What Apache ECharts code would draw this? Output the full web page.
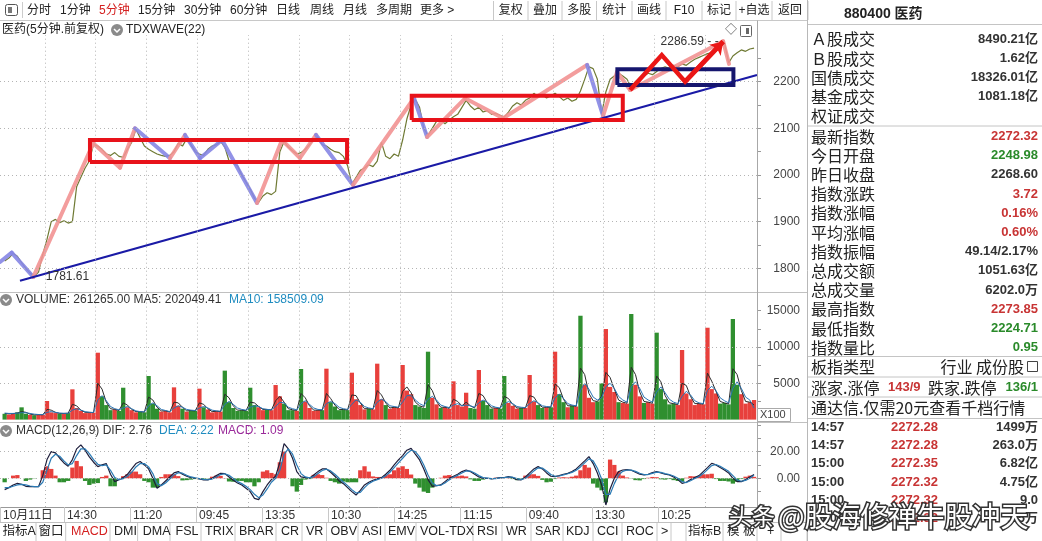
<!DOCTYPE html>
<html><head><meta charset="utf-8">
<script src="https://cdn.jsdelivr.net/npm/echarts@6/dist/echarts.min.js"></script>
<style>html,body{margin:0;padding:0;background:#fff}#c{width:1042px;height:541px}</style>
</head><body><div id="c"></div>
<script>
// ---------- data (coarse: 6 bars per trading day) ----------
const price = [
1816,1822,1832,1826,1812,1800,1790,1783,1792,1830,
1862,1900,1905,1898,1902,1897,1900,1975,1995,2015,
2030,2066,2062,2055,2045,2042,2048,2040,2038,2055,
2070,2098,2080,2062,2055,2050,2045,2042,2040,2042,
2050,2068,2062,2078,2065,2050,2045,2042,2055,2062,
2065,2072,2060,2030,2025,2020,2000,1985,1970,1950,
1942,1955,1962,1958,1965,2050,2072,2060,2052,2045,
2048,2055,2065,2075,2082,2065,2062,2055,2050,2048,
2040,2020,1980,1995,2010,2015,2022,2018,2030,2070,
2040,2035,2045,2040,2075,2120,2150,2162,2145,2100,
2085,2100,2115,2118,2110,2118,2125,2130,2145,2160,
2148,2140,2145,2135,2138,2130,2132,2128,2124,2135,
2148,2155,2150,2160,2165,2175,2168,2172,2165,2170,
2175,2168,2160,2165,2158,2162,2180,2205,2232,2228,
2205,2130,2178,2205,2212,2218,2212,2205,2188,2200,
2208,2212,2218,2215,2222,2228,2232,2228,2235,2232,
2238,2235,2242,2248,2252,2256,2260,2262,2268,2275,
2284,2240,2255,2262,2268,2265,2270,2272];

const vol = [
800,700,900,1000,
1690,800,650,600,700,650,
2560,1000,900,800,850,900,
4170,1600,1200,900,1000,950,
9210,3200,2000,1300,1400,1200,
4390,1700,1300,1000,1100,1000,
6000,2200,1500,1100,1200,1000,
4440,1900,1500,1100,1300,1200,
4260,1700,1400,1000,1200,1100,
6740,2400,1600,1200,1300,1200,
4390,2000,1700,1300,1400,1300,
4760,3200,2200,1300,1300,1200,
6970,2500,1600,1200,1300,1300,
7010,2400,1800,1300,1400,1300,
6460,2800,2000,1400,1500,1400,
7700,2800,2000,1500,1700,1600,
7520,4000,3500,2000,1800,1600,
9350,3000,2100,1600,1700,1500,
5270,2000,1800,3700,1600,1500,
6830,2600,2000,1500,1600,1500,
6000,2300,1900,1500,1600,1600,
6140,2500,2000,1600,1700,1700,
9350,3500,2400,1700,1900,1800,
14300,4800,3000,2400,2500,5000,
12470,4500,3800,2400,2300,2200,
14540,4800,3200,2300,2400,2200,
11970,4200,2800,2100,2200,2000,
9580,3600,2800,2000,2200,2100,
12650,4200,3600,2200,2300,2100,
13850,4800,3500,2200,2400,2700];

const volUp = [
0,1,1,0,
0,0,1,0,1,1, 1,1,1,0,1,0, 1,1,1,1,1,1, 1,0,0,0,1,0, 0,1,1,1,0,0,
0,0,0,1,1,1, 1,1,0,1,0,0, 1,0,1,1,1,1, 0,0,0,0,0,0, 0,0,1,1,0,1,
1,1,0,0,0,1, 0,1,1,1,1,0, 1,0,0,0,0,0, 1,1,1,1,0,1, 1,1,0,1,1,1,
1,1,1,0,0,0, 0,1,1,0,1,1, 1,1,1,1,0,0, 1,0,0,0,1,0, 0,1,1,1,0,1,
1,1,0,0,1,0, 1,0,0,1,0,1, 0,1,1,1,0,0, 1,1,1,0,1,1, 0,1,1,0,1,1,
0,0,0,0,0,1, 1,1,1,1,1,1, 1,1,1,0,0,0, 0,0,1,1,1,1];

const volMA5 = [
850,800,820,900,
1100,1000,750,650,680,660, 1400,1300,1000,850,850,880, 2100,1900,1300,1000,1000,960,
5000,4200,2400,1500,1400,1250, 2300,2000,1400,1100,1100,1030, 3100,2700,1700,1200,1200,1050,
2400,2300,1700,1200,1250,1200, 2300,2100,1500,1100,1150,1100, 3500,3000,1900,1300,1300,1220,
2400,2300,1800,1400,1400,1320, 2600,3200,2400,1500,1350,1250, 3600,3000,1900,1300,1300,1300,
3600,2900,2000,1400,1400,1320, 3400,3300,2300,1500,1500,1420, 4000,3400,2300,1600,1700,1620,
3900,4500,3700,2400,1900,1700, 4800,4000,2500,1700,1700,1550, 2800,2500,1900,2400,1900,1600,
3600,3300,2300,1600,1600,1520, 3200,2900,2100,1600,1600,1600, 3300,3100,2200,1700,1700,1700,
4900,4400,2800,1900,1900,1820, 7100,6200,3600,2600,2500,3200, 6500,5800,4200,2700,2400,2250,
7200,6200,3800,2500,2400,2250, 6000,5200,3300,2300,2200,2050, 5000,4700,3200,2200,2200,2120,
6400,5300,3900,2500,2300,2150, 7000,6200,4000,2500,2400,2020];

const volMA10 = [
900,850,850,880,
950,950,850,750,700,680, 1000,1100,1000,900,860,870, 1300,1500,1300,1100,1000,980,
2700,3300,2600,1800,1500,1350, 1600,1800,1500,1200,1100,1050, 1900,2300,1900,1400,1250,1100,
1600,1900,1700,1400,1300,1250, 1600,1800,1600,1300,1200,1150, 2100,2500,2100,1600,1400,1300,
1700,1900,1800,1500,1400,1350, 1800,2400,2300,1700,1500,1350, 2200,2600,2100,1600,1400,1350,
2200,2500,2200,1700,1500,1400, 2100,2700,2400,1800,1600,1500, 2400,2800,2500,1900,1800,1700,
2400,3300,3300,2700,2200,1900, 2800,3200,2700,2000,1800,1650, 2000,2200,1900,2000,1900,1700,
2300,2700,2400,1900,1700,1600, 2100,2500,2200,1800,1700,1650, 2200,2600,2300,1900,1800,1750,
3000,3500,2900,2200,2000,1900, 4000,5000,4200,3100,2700,3000, 4500,5000,4300,3200,2700,2400,
4500,5200,4300,3100,2700,2400, 3800,4500,3700,2800,2400,2200, 3200,3900,3400,2600,2300,2200,
4000,4600,4000,3000,2600,2300, 4300,5200,4300,3100,2700,1585];

const dif = [
-8.5,-7,-5,-3.8,-4.5,-6,-6.3,-6.3,-6.3,2,
14,20,19,15,11.5,9,14,22,25,21,
16,12,8.7,10,11,3,-2.5,-1,0.5,3,
7,11,12.5,10,7,0,-7.5,-5,-2,1,
4,5,3,1.5,0.5,0,-0.5,-1.2,-1.2,0,
2,3.7,3.5,1,-1.5,-3.5,-5,-7.5,-10,-15,
-16,-10,-5,-1,1.5,12,26,22,15,5,
1,0.5,0,2.5,5,7,7,4.5,1.5,-2,
-4,-7,-10,-12.5,-9,-5,-3,-1.5,-0.5,0.5,
3,6,10,13.7,17,21,22.4,18,13.7,7,
-1,-6,-5.5,-5,-2.5,0,1.5,3,5,6.2,
5,3,1,0,0,-0.5,0,0.5,0.5,1.2,
0.5,-1,-1.2,1,4,7,8.7,7,4,1.5,
1.2,2,3,3.7,5,7,10,13,16.2,11,
4,-5,-20,-8,0,5,6.2,6.5,6,4.5,
3,2.5,3,4.2,5,4,3,2.5,1,-1,
-3.8,-3,-1,0.5,2,5,8,11.2,10,8,
6.2,4,0,-2.5,-2.5,-1,1,2.76];

const dea = [
-7,-7,-6,-5,-4.5,-5,-5.8,-6.2,-6.3,-3,
6,15,18,16.5,13,10,11,17,22,22,
18.5,14,10.5,9.5,10,6,0.5,-1,-0.3,1.5,
4.5,8.5,11,11,8.5,3.5,-4,-5.5,-3.5,-0.5,
2.5,4.2,3.8,2.2,1,0.3,-0.2,-0.8,-1.1,-0.6,
1,2.8,3.4,2.2,-0.2,-2.5,-4,-6,-8.5,-12,
-14.5,-12.5,-8,-3,0,6,18,22,18,10,
3.5,1,0.3,1.2,3.5,5.8,6.8,5.5,3,0,
-2.8,-5.5,-8.5,-11,-10.5,-7,-4,-2.2,-1,0,
1.8,4.5,8,11.5,15,18.5,21,20,16,10,
2.5,-3.5,-5.5,-5.2,-3.5,-1.2,0.8,2.2,4,5.5,
5.4,4,2,0.5,0.1,-0.3,-0.2,0.3,0.5,0.9,
0.8,-0.3,-1,0,2.5,5.5,7.8,7.6,5.5,2.8,
1.5,1.7,2.6,3.4,4.4,6,8.5,11.5,14.5,13,
7.5,-0.5,-12,-12,-4,2.5,5.2,6.2,6.1,5.2,
3.8,2.8,2.8,3.7,4.6,4.4,3.5,2.8,1.7,0,
-2.5,-3.2,-1.8,-0.2,1.2,3.5,6.5,9.5,10.3,9,
7.2,5.2,2,-1.2,-2.2,-1.6,0,2.22];

const macdBar = [
-3,0,2,2.4,0,-2,-1,-0.2,0,6,
9,7,2,-3,-3,-2,8,13,9,-2,
-5,-4,-3.6,1,2,-6,-6,0,1.6,3,
5,5,3,-2,-3,-7,-7,1,3,3,
3,1.6,-1.6,-1.4,-1,-0.6,-0.6,-0.8,-0.2,1.2,
2,1.8,0.2,-2.4,-2.6,-2,-2,-3,-3,-6,
-3,5,6,4,3,12,20,0,-6,-10,
-5,-1,-0.6,2.6,3,2.4,0.4,-2,-3,-4,
-2.4,-3,-3,-3,6,9,5,1.4,1,1,
2.4,3,6,8,9,7,2.8,-4,-7,-10,
-11,-7,0,0.4,2,2.4,1.4,1.6,2,1.4,
-0.8,-2,-2,-1,-0.2,-0.4,0.4,0.4,0,0.6,
-0.6,-1.4,-0.4,2,3,3,1.8,-1.2,-3,-2.6,
-0.6,0.6,0.8,0.6,1.2,2,6,10,8,-4,
-7,-9,-18,14,10,5,2,0.6,-0.2,-1.4,
-1.6,-0.6,0.4,1,0.8,-0.8,-1,-0.6,-1.4,-2,
-2.6,0.4,1.6,1.4,1.6,3,3,3.4,-0.6,-2,
-2,-2.4,-4,-2.6,-0.6,1.2,2,1.09];

// TDXWAVE(22) zig-zag vertices (bar position, index value) and trend state of each leg
const waveBars = [-0.6,2.16,7.26,21.43,27.74,31.29,39.55,43.1,46.64,51.84,60.11,66.0,70.26,74.04,82.79,97.2,100.27,109.25,118.22,138.07,141.85,145.15,148.23,170.2,171.6];
const waveVals = [1813.7,1833.6,1781.61,2068,2015.7,2100,2035.9,2085.8,2035.9,2075,1940,2075,2036.5,2086,1978.6,2165,2081.5,2164.4,2121.6,2235.8,2126.5,2220.8,2182.2,2286.59,2238];
const waveUp   = [0,0,1,1,1,0,1,0,0,0,1,1,1,0,1,0,1,1,1,0,1,1,1,1];

// hand-drawn annotations, in data space
const trendBars = [4.12,178.2];
const trendVals = [1773.6,2214.4];
const boxBars = [[20.65,81.37],[96.65,146.5],[145.22,172.63]];
const boxVals = [[2027.9,2075],[2117.9,2170],[2192.9,2226.6]];
const arrowBars = [148.23,155.71,161.22,170.2];
const arrowVals = [2182,2257,2200,2285.7];

// axes
const xTickBars = [-0.6,14.5,30.1,45.7,61.3,76.9,92.5,108.1,123.6,139.2,154.8];
const xTickLabels = ['10月11日','14:30','11:20','09:45','13:35','10:30','14:25','11:15','09:40','13:30','10:25'];
const gridDayBars = [10,22,34,46,58,70,82,94,106,118,130,142,154,166];
const mainLabels = [1800,1900,2000,2100,2200];
const mainTicks = [1800,1850,1900,1950,2000,2050,2100,2150,2200,2250];
const volLabels = [5000,10000,15000];
const volTicks = [2500,5000,7500,10000,12500,15000];
const macdLabels = [0,20];
const macdTicks = [-20,-10,0,10,20,30,40];

// side panel texts
const infoLabelsA = ['Ａ股成交','Ｂ股成交','国债成交','基金成交','权证成交'];
const infoValuesA = ['8490.21亿','1.62亿','18326.01亿','1081.18亿',''];
const infoLabelsB = ['最新指数','今日开盘','昨日收盘','指数涨跌','指数涨幅','平均涨幅','指数振幅','总成交额','总成交量','最高指数','最低指数','指数量比'];
const infoValuesB = ['2272.32','2248.98','2268.60','3.72','0.16%','0.60%','49.14/2.17%','1051.63亿','6202.0万','2273.85','2224.71','0.95'];
const infoSignB   = [1,-1,0,1,1,1,0,0,0,1,-1,-1];
const tickTimes = ['14:57','14:57','15:00','15:00','15:00','15:00'];
const tickPrices = ['2272.28','2272.28','2272.35','2272.32','2272.32','2272.32'];
const tickVols = ['1499万','263.0万','6.82亿','4.75亿','9.0','1.5万'];

// ---------- rendering ----------
const FONT = "'Liberation Sans','Noto Sans CJK SC',sans-serif";
const CN = "'Noto Sans CJK SC','Liberation Sans',sans-serif";
const RED = '#e8403c', GREEN = '#2f8f2f';
const TXT_RED = '#c83434', TXT_GREEN = '#2a8a2a';
const XMIN = -0.6, XMAX = 178.2;
const pos = i => i + 0.5;

function gridLines(ys, xs) {
  return {silent:true, symbol:['none','none'], animation:false, label:{show:false},
    emphasis:{disabled:true}, lineStyle:{type:[1,3], color:'#b4b4b4', width:1},
    data: ys.map(v => ({yAxis:v})).concat(xs.map(v => ({xAxis:v})))};
}
function tickLabel(v) {
  let b = 0;
  xTickBars.forEach((t, j) => { if (Math.abs(t - v) < Math.abs(xTickBars[b] - v)) b = j; });
  return xTickLabels[b];
}

const g = [];
function T(x, y, text, o, al) {
  g.push({type:'text', x:x, y:y, silent:true, z:100, style:Object.assign({text:text, fill:'#222', fontSize:12,
    fontFamily:FONT, align:al||'left', textAlign:al||'left', verticalAlign:'middle', textVerticalAlign:'middle'}, o||{})});
}
function L(x1, y1, x2, y2, c, w) {
  g.push({type:'line', silent:true, z:90, shape:{x1:x1, y1:y1, x2:x2, y2:y2}, style:{stroke:c||'#c8c8c8', lineWidth:w||1}});
}
function R(x, y, w, h, st) { g.push({type:'rect', silent:true, z:95, shape:{x:x, y:y, width:w, height:h, r:st.r||0}, style:st}); }
function icon(cx, cy) {
  g.push({type:'circle', silent:true, z:95, shape:{cx:cx, cy:cy, r:6}, style:{fill:'#8a8a8a'}});
  g.push({type:'polyline', silent:true, z:96, shape:{points:[[cx-3,cy-1],[cx,cy+2],[cx+3,cy-1]]}, style:{stroke:'#fff', lineWidth:1.5, fill:null}});
}

// toolbar
L(0, 20.5, 808, 20.5, '#c8c8c8');
R(5.5, 4.5, 12, 11, {fill:'#fff', stroke:'#555', lineWidth:1, r:2});
R(8, 7, 4, 6, {fill:'#777'});
L(22.5, 2, 22.5, 18, '#ccc');
const tbL = ['分时','1分钟','5分钟','15分钟','30分钟','60分钟','日线','周线','月线','多周期','更多 >'];
const tbLx = [27,60,99,138,184,230,276,310,343,376,420];
tbL.forEach((t, i) => T(tbLx[i], 10.5, t, {fill: t === '5分钟' ? '#d42020' : '#222', fontSize:12}));
const tbR = ['复权','叠加','多股','统计','画线','F10','标记','+自选','返回'];
const tbSep = [493.5,528,562,596.5,632,666,702,736,772,808];
tbSep.forEach(x => L(x, 1, x, 20, '#c8c8c8'));
tbR.forEach((t, i) => T((tbSep[i] + tbSep[i + 1]) / 2, 10.5, t, {fontSize:12}, 'center'));

// chart headers
T(2, 30, '医药(5分钟.前复权)', {fontSize:12});
icon(117, 30);
T(126, 30, 'TDXWAVE(22)', {fontSize:12});
T(731, 31, '◇', {fontSize:12, fill:'#555'}, 'center');
R(740.5, 25.5, 11, 11, {fill:'#fff', stroke:'#666', lineWidth:1, r:1});
R(746, 28, 3, 6, {fill:'#666'});
icon(6, 300);
T(16, 300, 'VOLUME: 261265.00 MA5: 202049.41', {fontSize:12, fill:'#333'});
T(229, 300, 'MA10: 158509.09', {fontSize:12, fill:'#1f8cc0'});
icon(6, 431);
T(16, 431, 'MACD(12,26,9) DIF: 2.76', {fontSize:12, fill:'#333'});
T(159, 431, 'DEA: 2.22', {fontSize:12, fill:'#1f8cc0'});
T(218, 431, 'MACD: 1.09', {fontSize:12, fill:'#9a2a9a'});

// panel separators / axis column
L(0, 292.5, 807, 292.5, '#c0c0c0');
L(0, 422.5, 807, 422.5, '#c0c0c0');
L(757.5, 20.5, 757.5, 522, '#a8a8a8');
R(757.5, 408.5, 33, 13, {fill:'#fff', stroke:'#aaa', lineWidth:1});
T(760, 415, 'X100', {fontSize:11, fill:'#444'});

// bottom tab bar
L(0, 522.5, 807, 522.5, '#c0c0c0');
const tabs = [['指标A',2.5],['窗口',38.5],['MACD',71],['DMI',114],['DMA',142.7],['FSL',175.6],['TRIX',205],['BRAR',239],['CR',281],['VR',306],['OBV',330.6],['ASI',362],['EMV',388],['VOL-TDX',420],['RSI',477],['WR',506],['SAR',535],['KDJ',566],['CCI',597],['ROC',626],['>',661],['指标B',688],['模 板',727],['+',767],['−',791]];
tabs.forEach(t => T(t[1], 531.5, t[0], {fontSize:12.5, fill: t[0] === 'MACD' ? '#d42020' : '#222'}));
[36,65.7,110,137.6,170,201,235,276,302,326.5,358,385,416,473,502,531,563,593,622,657,671,686,723,757,781,807].forEach(x => L(x, 523, x, 541, '#c8c8c8'));

// right info panel
L(807.5, 0, 807.5, 541, '#b8b8b8');
T(844, 14, '880400 医药', {fontSize:14, fontWeight:'bold', fill:'#222'});
[24.5,126,356.5,377,397,418.5].forEach(y => L(808, y, 1042, y, '#c4c4c4'));
infoLabelsA.forEach((t, i) => {
  const y = 39.3 + 19.2 * i;
  T(811, y, t, {fontSize:16, fontFamily:CN, fill:'#222'});
  if (infoValuesA[i]) T(1038, y, infoValuesA[i], {fontSize:13, fontWeight:'bold', fill:'#333'}, 'right');
});
infoLabelsB.forEach((t, i) => {
  const y = 136.5 + 19.2 * i;
  T(811, y, t, {fontSize:16, fontFamily:CN, fill:'#222'});
  const c = infoSignB[i] > 0 ? TXT_RED : infoSignB[i] < 0 ? TXT_GREEN : '#333';
  T(1038, y, infoValuesB[i], {fontSize:13, fontWeight:'bold', fill:c}, 'right');
});
T(811, 367, '板指类型', {fontSize:16, fontFamily:CN});
T(1024, 367, '行业 成份股', {fontSize:16, fontFamily:CN}, 'right');
R(1027.5, 361.5, 10, 10, {fill:'#fff', stroke:'#444', lineWidth:1});
L(1029, 365, 1036, 365, '#444'); L(1029, 368, 1036, 368, '#444');
T(811, 387.5, '涨家.涨停', {fontSize:16, fontFamily:CN});
T(888, 387.5, '143/9', {fontSize:13, fontWeight:'bold', fill:TXT_RED});
T(928, 387.5, '跌家.跌停', {fontSize:16, fontFamily:CN});
T(1038, 387.5, '136/1', {fontSize:13, fontWeight:'bold', fill:TXT_GREEN}, 'right');
T(811, 408, '通达信.仅需20元查看千档行情', {fontSize:16, fontFamily:CN});
tickTimes.forEach((t, i) => {
  const y = 427.7 + 18.1 * i;
  T(811, y, t, {fontSize:13, fontWeight:'bold', fill:'#333'});
  T(891, y, tickPrices[i], {fontSize:13, fontWeight:'bold', fill:TXT_RED});
  T(1038, y, tickVols[i], {fontSize:13, fontWeight:'bold', fill:'#333'}, 'right');
});

// watermark
T(729, 516, '头条', {fontSize:23, fontFamily:CN, fill:'#fff', stroke:'#333', lineWidth:3, strokeFirst:true});
T(778, 516, '@股海修禅牛股冲天', {fontSize:28, fontFamily:CN, fill:'#fff', stroke:'#333', lineWidth:3, strokeFirst:true});

// series data
const priceData = price.map((v, i) => [pos(i), v]);
const waveData = waveUp.map((u, k) => ({
  coords: [[waveBars[k], waveVals[k]], [waveBars[k + 1], waveVals[k + 1]]],
  lineStyle: {color: u ? '#f29292' : '#8686e4'}
}));
const boxColors = ['#e8121a', '#e8121a', '#16166e'];
const boxData = boxBars.map((b, k) => ({
  coords: [[b[0], boxVals[k][0]], [b[1], boxVals[k][0]], [b[1], boxVals[k][1]], [b[0], boxVals[k][1]], [b[0], boxVals[k][0]]],
  lineStyle: {color: boxColors[k]}
}));
const nA = arrowBars.length;
const arrowPath = [{coords: arrowBars.map((b, k) => [b, arrowVals[k]])}];
const arrowHead = [{coords: [[arrowBars[nA - 2], arrowVals[nA - 2]], [arrowBars[nA - 1], arrowVals[nA - 1]]]}];
const volData = vol.map((v, i) => ({value: [pos(i), v], itemStyle: {color: volUp[i] ? RED : GREEN}}));
const macdData = macdBar.map((v, i) => ({value: [pos(i), v], itemStyle: {color: v >= 0 ? RED : GREEN}}));

const xBase = {type:'value', min:XMIN, max:XMAX, splitLine:{show:false}};
const yBase = {type:'value', position:'right', splitLine:{show:false}};
function yAx(gi, mn, mx, ticks, labels, fmt) {
  return Object.assign({gridIndex:gi, min:mn, max:mx,
    axisLine:{show:false, onZero:false},
    axisTick:{show:true, customValues:ticks, length:4, lineStyle:{color:'#999'}},
    axisLabel:{customValues:labels, align:'right', margin:43, color:'#444', fontSize:12, fontFamily:FONT, formatter:fmt}}, yBase);
}

const option = {
  animation:false,
  backgroundColor:'#fff',
  grid:[
    {left:0, top:35, width:757, height:256.7, outerBoundsMode:'none'},
    {left:0, top:292.5, width:757, height:127.1, outerBoundsMode:'none'},
    {left:0, top:422.7, width:757, height:84.3, outerBoundsMode:'none'}
  ],
  xAxis:[
    Object.assign({gridIndex:0, show:false, axisLine:{onZero:false}}, xBase),
    Object.assign({gridIndex:1, show:false, axisLine:{onZero:false}}, xBase),
    Object.assign({gridIndex:2, position:'bottom',
      axisLine:{show:true, onZero:false, lineStyle:{color:'#999'}},
      axisTick:{show:true, customValues:xTickBars, length:15, lineStyle:{color:'#c8c8c8'}},
      axisLabel:{customValues:xTickBars, formatter:tickLabel, align:'left', margin:3, padding:[0,0,0,3], color:'#333', fontSize:12, fontFamily:FONT}}, xBase)
  ],
  yAxis:[
    yAx(0, 1750, 2300, mainTicks, mainLabels, v => String(v)),
    yAx(1, 0, 17500, volTicks, volLabels, v => String(v)),
    yAx(2, -21.5, 41.6, macdTicks, macdLabels, v => v.toFixed(2))
  ],
  graphic:{elements:g},
  series:[
    {type:'line', xAxisIndex:0, yAxisIndex:0, data:priceData, symbol:'none', z:2,
      lineStyle:{width:1.2, color:'#6f7a34'},
      markLine:gridLines(mainLabels, gridDayBars),
      markPoint:{symbol:'circle', symbolSize:1, itemStyle:{color:'rgba(0,0,0,0)'}, silent:true,
        label:{show:true, color:'#333', fontSize:12, fontFamily:FONT},
        data:[
          {coord:[waveBars[23], waveVals[23]], label:{position:'left', distance:4, formatter:waveVals[23].toFixed(2) + ' - -'}},
          {coord:[waveBars[2], waveVals[2]], label:{position:'right', distance:12, formatter:waveVals[2].toFixed(2)}}
        ]}},
    {type:'lines', coordinateSystem:'cartesian2d', xAxisIndex:0, yAxisIndex:0, z:3, silent:true,
      lineStyle:{width:4, opacity:0.9, cap:'round'}, data:waveData},
    {type:'lines', coordinateSystem:'cartesian2d', xAxisIndex:0, yAxisIndex:0, z:4, silent:true,
      lineStyle:{width:2.2, opacity:1, color:'#1a1aa6'},
      data:[{coords:[[trendBars[0], trendVals[0]], [trendBars[1], trendVals[1]]]}]},
    {type:'lines', coordinateSystem:'cartesian2d', xAxisIndex:0, yAxisIndex:0, z:5, silent:true, polyline:true,
      lineStyle:{width:4, opacity:1, join:'miter'}, data:boxData},
    {type:'lines', coordinateSystem:'cartesian2d', xAxisIndex:0, yAxisIndex:0, z:6, silent:true, polyline:true,
      lineStyle:{width:4.5, opacity:1, color:'#ea1616', join:'miter'}, data:arrowPath},
    {type:'lines', coordinateSystem:'cartesian2d', xAxisIndex:0, yAxisIndex:0, z:6, silent:true,
      symbol:['none','arrow'], symbolSize:12,
      lineStyle:{width:4.5, opacity:1, color:'#ea1616'}, data:arrowHead},
    {type:'bar', xAxisIndex:1, yAxisIndex:1, data:volData, barWidth:4.3, z:2,
      markLine:gridLines([5000, 10000], gridDayBars)},
    {type:'line', xAxisIndex:1, yAxisIndex:1, data:volMA5.map((v, i) => [pos(i), v]), symbol:'none', z:3,
      lineStyle:{width:1, color:'#2b2b2b'}},
    {type:'line', xAxisIndex:1, yAxisIndex:1, data:volMA10.map((v, i) => [pos(i), v]), symbol:'none', z:3,
      lineStyle:{width:1, color:'#2a74b4'}},
    {type:'bar', xAxisIndex:2, yAxisIndex:2, data:macdData, barWidth:4.3, z:2,
      markLine:gridLines([0, 20], gridDayBars)},
    {type:'line', xAxisIndex:2, yAxisIndex:2, data:dif.map((v, i) => [pos(i), v]), symbol:'none', z:3,
      lineStyle:{width:1.2, color:'#1e1e3c'}},
    {type:'line', xAxisIndex:2, yAxisIndex:2, data:dea.map((v, i) => [pos(i), v]), symbol:'none', z:3,
      lineStyle:{width:1.2, color:'#2a7ab4'}}
  ]
};
const chart = echarts.init(document.getElementById('c'), null, {renderer:'canvas', width:1042, height:541});
chart.setOption(option);
</script></body></html>
